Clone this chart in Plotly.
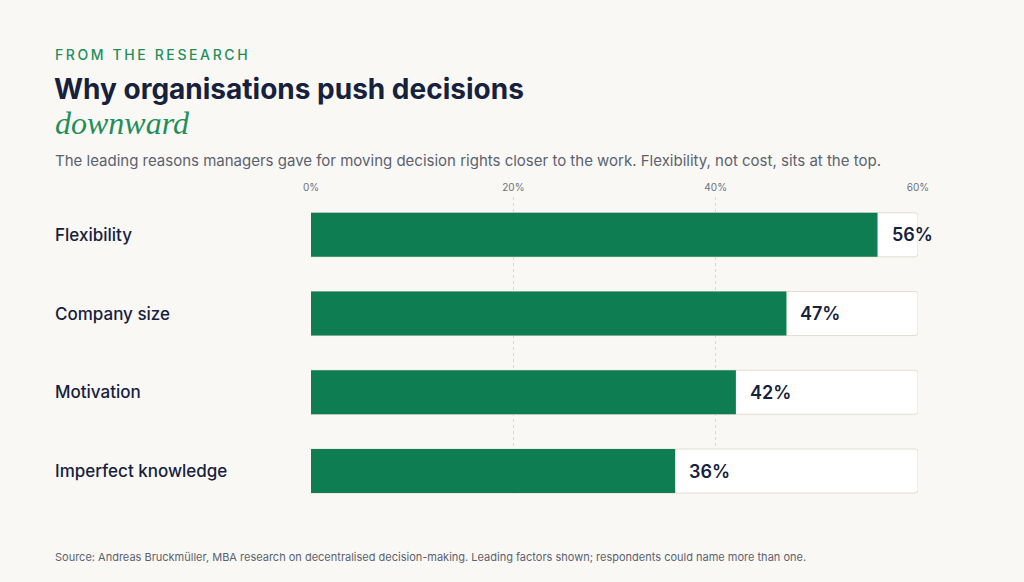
import plotly.graph_objects as go

categories = ["Flexibility", "Company size", "Motivation", "Imperfect knowledge"]
values = [56, 47, 42, 36]
axis_max = 60
tick_vals = [0, 20, 40, 60]
tick_text = ["0%", "20%", "40%", "60%"]

BG = "#faf8f4"
GREEN = "#0f7d52"
NAVY = "#16213d"
GRAY = "#5b6270"
FONT = "Inter"

W, H = 1024, 582
def px(xp):
    return (xp - 2 - 311) / 607
def py(yp):
    return (H - 85 - yp) / (H - 85 - 197)

fig = go.Figure()
fig.add_trace(go.Bar(
    x=[axis_max] * len(categories), y=categories, orientation="h",
    marker=dict(color="#ffffff", line=dict(color="#e2ddd0", width=1), cornerradius=3),
    width=0.56, hoverinfo="skip", showlegend=False,
))
fig.add_trace(go.Bar(
    x=values, y=categories, orientation="h",
    marker=dict(color=GREEN, line=dict(width=0), cornerradius=3),
    width=0.56, showlegend=False,
))

annotations = []
for c, v in zip(categories, values):
    annotations.append(dict(
        x=v, y=c, xref="x", yref="y", text=f"{v}%", showarrow=False,
        xanchor="left", xshift=12, font=dict(family=FONT, size=18, color=NAVY, weight=600),
    ))
    annotations.append(dict(
        x=px(55), y=c, xref="paper", yref="y", text=c, showarrow=False,
        xanchor="left", font=dict(family=FONT, size=17, color=NAVY, weight=500),
    ))

annotations += [
    dict(text="FROM THE RESEARCH", x=px(55), y=py(55), xref="paper", yref="paper",
         xanchor="left", yanchor="middle", showarrow=False,
         font=dict(family=FONT, size=14, color="#1f8f5a", weight=500)),
    dict(text="<b>Why organisations push decisions</b>", x=px(54), y=py(89), xref="paper", yref="paper",
         xanchor="left", yanchor="middle", showarrow=False,
         font=dict(family=FONT, size=28, color=NAVY)),
    dict(text="<i>downward</i>", x=px(55), y=py(123), xref="paper", yref="paper",
         xanchor="left", yanchor="middle", showarrow=False,
         font=dict(family="Liberation Serif", size=32, color="#1f8f5a")),
    dict(text="The leading reasons managers gave for moving decision rights closer to the work. Flexibility, not cost, sits at the top.",
         x=px(55), y=py(161), xref="paper", yref="paper",
         xanchor="left", yanchor="middle", showarrow=False,
         font=dict(family=FONT, size=15, color=GRAY)),
    dict(text="Source: Andreas Bruckmüller, MBA research on decentralised decision-making. Leading factors shown; respondents could name more than one.",
         x=px(55), y=py(557), xref="paper", yref="paper",
         xanchor="left", yanchor="middle", showarrow=False,
         font=dict(family=FONT, size=11, color=GRAY)),
]

fig.update_layout(
    width=W, height=H,
    paper_bgcolor=BG, plot_bgcolor=BG,
    margin=dict(l=311, r=106, t=197, b=85),
    barmode="overlay", bargap=0.44,
    annotations=annotations,
    xaxis=dict(range=[0, axis_max], side="top", tickvals=tick_vals, ticktext=tick_text,
               showgrid=True, gridcolor="#dcd8cf", griddash="dot", gridwidth=1,
               zeroline=False, showline=False, ticks="", ticklabelstandoff=3,
               tickfont=dict(family=FONT, size=10, color="#6b7280"), fixedrange=True),
    yaxis=dict(categoryorder="array", categoryarray=categories, range=[3.33, -0.48],
               showticklabels=False, showgrid=False, zeroline=False, fixedrange=True),
    font=dict(family=FONT),
)

post = """
document.body.style.margin = '0';
document.body.style.background = '#faf8f4';
document.querySelectorAll('.annotation-text').forEach(function(t){
  if (t.textContent.indexOf('FROM THE RESEARCH') === 0) {
    var b = t.getBBox();
    t.style.letterSpacing = '2.6px';
    t.setAttribute('text-anchor', 'start');
    t.setAttribute('x', b.x);
  }
});
"""
fig.write_html("out.html", post_script=post, config={"displayModeBar": False})
